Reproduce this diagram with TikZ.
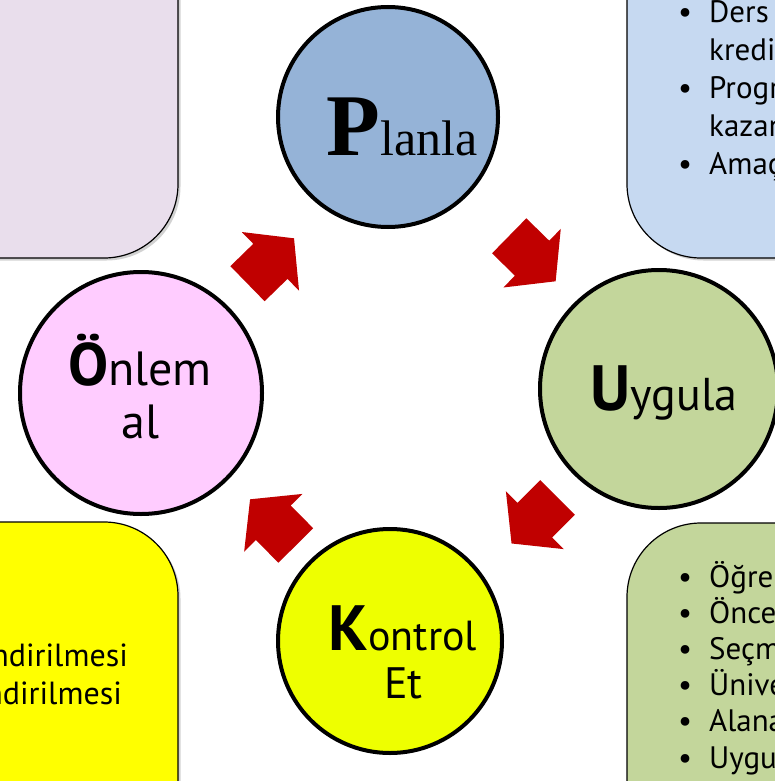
\documentclass[tikz,border=0pt]{standalone}
\usepackage{fontspec}
\setmainfont{PT Sans}
\newfontfamily\timesfont{Liberation Serif}
\usetikzlibrary{shadows}
\definecolor{lav}{HTML}{E9DEEC}
\definecolor{bluebox}{HTML}{C6D9F1}
\definecolor{greenbox}{HTML}{C3D69B}
\definecolor{yelbox}{HTML}{FFFF00}
\definecolor{pblue}{HTML}{95B3D7}
\definecolor{ugreen}{HTML}{C3D69B}
\definecolor{opink}{HTML}{FFCCFF}
\definecolor{kyel}{HTML}{EEFF00}
\definecolor{arrowred}{HTML}{C00000}
\newcommand\bx[1]{\smash{#1}}
\tikzset{
  infobox/.style={draw=black, line width=1.2pt, rounded corners=74pt,
    drop shadow={opacity=0.35, shadow xshift=2.5pt, shadow yshift=-2.5pt}},
  stepcircle/.style={circle, draw=black, line width=4pt, inner sep=0pt},
  boxtext/.style={anchor=base west, inner sep=0pt},
  circtext/.style={anchor=base, inner sep=0pt},
  blockarrow/.pic={\fill[arrowred] (0,24.5) -- (32,24.5) -- (32,41) -- (65,0)
      -- (32,-41) -- (32,-24.5) -- (0,-24.5) -- cycle;}
}
\begin{document}
\begin{tikzpicture}[x=1pt,y=1pt]
\useasboundingbox (0,0) rectangle (775,-781);
\clip (0,0) rectangle (775,-781);
\fill[white] (0,0) rectangle (775,-781);
% side boxes
\path[infobox, fill=lav] (-120,120) rectangle (178,-258);
\path[infobox, fill=bluebox] (627,120) rectangle (920,-258);
\path[infobox, fill=greenbox] (627,-523) rectangle (920,-920);
\path[infobox, fill=yelbox] (-120,-522) rectangle (178,-920);
% box texts
\node[boxtext, font=\fontsize{31}{38}\selectfont] (bluetext) at (678,-23) {\begin{tabular}[t]{@{}p{31pt}@{}l@{}}
\textbullet & \bx{Ders içerikleri ve}\\
 & \bx{kredileri}\\
\textbullet & \bx{Programların}\\
 & \bx{kazanımları}\\
\textbullet & \bx{Amaçlar}
\end{tabular}};
\node[boxtext, font=\fontsize{31}{36.2}\selectfont] (greentext) at (678,-587) {\begin{tabular}[t]{@{}p{31pt}@{}l@{}}
\textbullet & \bx{Öğrenme çıktıları}\\
\textbullet & \bx{Önceki öğrenme}\\
\textbullet & \bx{Seçmeli dersler}\\
\textbullet & \bx{Üniversite ortak}\\
\textbullet & \bx{Alana özgü dersler}\\
\textbullet & \bx{Uygulamalar}
\end{tabular}};
\node[boxtext, anchor=base east, font=\fontsize{32}{38}\selectfont] (yeltext) at (128,-666) {\begin{tabular}[t]{@{}r@{}}
\bx{Sonuçların değerlendirilmesi}\\
\bx{Sürecin değerlendirilmesi}\hspace{6pt}
\end{tabular}};
% circles
\node[stepcircle, fill=pblue, minimum size=220pt] (P) at (388,-117) {};
\node[stepcircle, fill=ugreen, minimum size=238pt] (U) at (659,-389) {};
\node[stepcircle, fill=kyel, minimum size=224pt] (K) at (390,-641) {};
\node[stepcircle, fill=opink, minimum size=242pt] (O) at (141,-393) {};
% circle texts
\node[circtext] (ptext) at (402,-155) {\timesfont\fontsize{88}{88}\selectfont\textbf{P}\fontsize{50}{50}\selectfont lanla};
\node[circtext] (utext) at (664,-410) {\fontsize{64}{64}\selectfont\textbf{U}\fontsize{46}{46}\selectfont ygula};
\node[circtext] (otext1) at (140,-385) {\fontsize{60}{60}\selectfont\textbf{Ö}\fontsize{48}{48}\selectfont nlem};
\node[circtext] (otext2) at (140.5,-438) {\fontsize{48}{48}\selectfont al};
\node[circtext] (ktext1) at (403,-650) {\fontsize{64}{64}\selectfont\textbf{K}\fontsize{42}{42}\selectfont ontrol};
\node[circtext] (ktext2) at (403.5,-698) {\fontsize{44}{44}\selectfont Et};
% block arrows
\pic[rotate=-44.4] at (509.2,-235.8) {blockarrow};
\pic[rotate=-135] at (557.5,-497.5) {blockarrow};
\pic[rotate=134.7] at (295.8,-545.5) {blockarrow};
\pic[rotate=44.3] at (247.5,-283.7) {blockarrow};
\end{tikzpicture}
\end{document}
